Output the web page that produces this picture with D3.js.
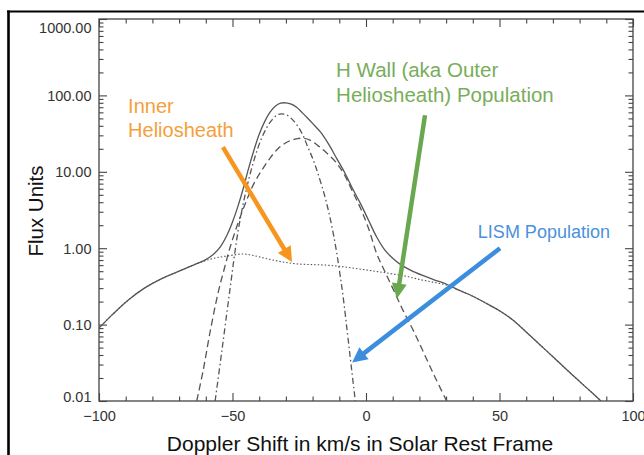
<!DOCTYPE html>
<html>
<head>
<meta charset="utf-8">
<script src="https://cdn.jsdelivr.net/npm/d3@7"></script>
<style>
body { margin: 0; background: #fff; }
svg { display: block; font-family: "Liberation Sans", Arial, sans-serif; }
</style>
</head>
<body>
<div id="chart"></div>
<script>
const xTicks = [-100, -50, 0, 50, 100]
const xMinor = [-90, -80, -70, -60, -40, -30, -20, -10, 10, 20, 30, 40, 60, 70, 80, 90]
const yTicks = [0.01, 0.1, 1, 10, 100, 1000]

// total flux (solid)
const totalFlux = [
  [-100, 0.09], [-95, 0.135], [-89, 0.21], [-83, 0.30], [-76.5, 0.40], [-70, 0.50],
  [-64, 0.615], [-60, 0.71], [-57, 0.84], [-54.5, 1.05], [-52, 1.5], [-50, 2.2],
  [-48, 3.5], [-46, 6.0], [-44, 11], [-42, 19], [-40, 31], [-38, 45], [-36, 60],
  [-34, 72], [-32, 79], [-30, 80], [-28, 77], [-26, 70], [-24, 60], [-22, 51],
  [-20, 43], [-17, 33], [-14, 23], [-11, 15], [-8, 9.8], [-5, 6], [-2, 3.8], [1, 2.3],
  [4, 1.4], [7, 0.95], [10, 0.74], [13, 0.61], [17, 0.51], [22, 0.43], [26, 0.38],
  [30, 0.34], [35, 0.28], [40, 0.235], [45, 0.19], [50, 0.152], [55, 0.115], [60, 0.08],
  [65, 0.055], [70, 0.038], [75, 0.026], [80, 0.018], [85, 0.0125], [88, 0.01]
]
// inner heliosheath (dotted)
const innerHS = [
  [-100, 0.09], [-95, 0.135], [-89, 0.21], [-83, 0.30], [-76.5, 0.40], [-70, 0.50],
  [-64, 0.615], [-60, 0.69], [-56, 0.75], [-51, 0.8], [-46, 0.84], [-42, 0.8],
  [-38, 0.74], [-34, 0.69], [-30, 0.65], [-25, 0.62], [-20, 0.61], [-15, 0.6],
  [-10, 0.58], [-5, 0.55], [0, 0.52], [5, 0.49], [10, 0.46], [15, 0.43], [20, 0.39],
  [25, 0.36], [30, 0.33], [35, 0.28], [40, 0.235], [45, 0.19], [50, 0.152], [55, 0.115],
  [60, 0.08], [65, 0.055], [70, 0.038], [75, 0.026], [80, 0.018], [85, 0.0125], [88, 0.01]
]
// H wall (dashed)
const hWall = [
  [-63.4, 0.01], [-61, 0.025], [-58.4, 0.08], [-55.3, 0.27], [-53, 0.55], [-51, 1.0],
  [-48, 2.1], [-45, 4.0], [-42, 7], [-39, 10.5], [-36, 15], [-33, 20], [-30, 24],
  [-27, 26.5], [-24, 27.5], [-21, 26], [-18, 22], [-15, 18], [-11, 13], [-8, 9],
  [-5, 5.5], [-2, 3.3], [1, 1.8], [4, 0.85], [7, 0.5], [10, 0.3], [14, 0.15],
  [18, 0.08], [22, 0.04], [26, 0.02], [30.2, 0.01]
]
// LISM (dash-dot)
const lism = [
  [-56.5, 0.01], [-54, 0.045], [-51, 0.28], [-48, 1.6], [-45, 5.5], [-42, 14], [-39, 28],
  [-36, 44], [-33, 56], [-30, 56], [-27, 46], [-24, 32], [-22, 22], [-20, 15],
  [-18, 9.5], [-15, 4.2], [-12, 1.4], [-9, 0.3], [-7, 0.08], [-5.5, 0.028], [-4, 0.01]
]

const notes = [
  { lines: ['Inner', 'Heliosheath'], at: [-89.1, 59], size: 20, text: '#f5a03a', color: '#f7961f', from: [-53.6, 21], to: [-27.7, 0.66] },
  { lines: ['H Wall (aka Outer', 'Heliosheath) Population'], at: [-11.2, 174], size: 20.5, text: '#78ad5a', color: '#6aa84f', from: [22.1, 55], to: [11.6, 0.22] },
  { lines: ['LISM Population'], at: [41.9, 1.36], size: 18, text: '#4a91db', color: '#3b8ede', from: [50.2, 1.0], to: [-5.2, 0.032] }
]

const width = 644, height = 455
const margin = { left: 99, top: 19, right: 11, bottom: 54 }
const innerW = width - margin.left - margin.right
const innerH = height - margin.top - margin.bottom

const svg = d3.select('#chart').append('svg')
  .attr('width', width)
  .attr('height', height)

// page frame
svg.append('line').attr('x1', 8.5).attr('x2', 8.5).attr('y1', 10.5).attr('y2', height)
  .attr('stroke', '#000').attr('stroke-width', 2.6)
svg.append('line').attr('x1', 7).attr('x2', width).attr('y1', 11.5).attr('y2', 11.5)
  .attr('stroke', '#000').attr('stroke-width', 1.8)

const g = svg.append('g').attr('transform', `translate(${margin.left},${margin.top})`)

const x = d3.scaleLinear().domain([-100, 100]).range([0, innerW])
const y = d3.scaleLog().domain([0.01, 1000]).range([innerH, 0])

const yMinor = []
yTicks.slice(0, -1).forEach((d) => {
  for (let k = 2; k <= 9; k++) yMinor.push(d * k)
})

const axisColor = '#444'
function styleAxis(sel) {
  sel.select('.domain').remove()
  sel.selectAll('line').attr('stroke', axisColor).attr('stroke-width', 1.1)
  sel.selectAll('text').attr('fill', '#333').attr('font-size', 14.5)
}

// major + minor ticks on all four sides, pointing inward
g.append('g').attr('transform', `translate(0,${innerH})`)
  .call(d3.axisBottom(x).tickValues(xTicks).tickSize(-8).tickPadding(10).tickSizeOuter(0))
  .call(styleAxis)
g.append('g').attr('transform', `translate(0,${innerH})`)
  .call(d3.axisBottom(x).tickValues(xMinor).tickSize(-4.5).tickFormat(''))
  .call(styleAxis)
g.append('g')
  .call(d3.axisTop(x).tickValues(xTicks).tickSize(-8).tickFormat(''))
  .call(styleAxis)
g.append('g')
  .call(d3.axisTop(x).tickValues(xMinor).tickSize(-4.5).tickFormat(''))
  .call(styleAxis)

const yAxis = g.append('g')
  .call(d3.axisLeft(y).tickValues(yTicks).tickSize(-8).tickPadding(7.5).tickFormat(d3.format('.2f')))
  .call(styleAxis)
// keep the end labels inside the box, like the original
yAxis.selectAll('.tick text').attr('dy', (d) => {
  if (d === 1000) return '0.95em'
  if (d === 0.01) return '0.02em'
  return '0.35em'
})
g.append('g')
  .call(d3.axisLeft(y).tickValues(yMinor).tickSize(-4.5).tickFormat(''))
  .call(styleAxis)
g.append('g').attr('transform', `translate(${innerW},0)`)
  .call(d3.axisRight(y).tickValues(yTicks).tickSize(-8).tickFormat(''))
  .call(styleAxis)
g.append('g').attr('transform', `translate(${innerW},0)`)
  .call(d3.axisRight(y).tickValues(yMinor).tickSize(-4.5).tickFormat(''))
  .call(styleAxis)

g.append('rect')
  .attr('width', innerW).attr('height', innerH)
  .attr('fill', 'none').attr('stroke', axisColor).attr('stroke-width', 1.3)

// curves
svg.append('defs').append('clipPath').attr('id', 'plot')
  .append('rect').attr('width', innerW).attr('height', innerH)

const line = d3.line()
  .x((d) => x(d[0]))
  .y((d) => y(d[1]))
  .curve(d3.curveCatmullRom.alpha(0.5))

const curves = g.append('g').attr('clip-path', 'url(#plot)')
const series = [
  { data: innerHS, dash: '1.5,2', w: 1.1 },
  { data: hWall, dash: '7,4', w: 1.3 },
  { data: lism, dash: '6,3,1.5,3', w: 1.3 },
  { data: totalFlux, dash: null, w: 1.3 }
]
curves.selectAll('path').data(series).join('path')
  .attr('d', (s) => line(s.data))
  .attr('fill', 'none')
  .attr('stroke', '#555')
  .attr('stroke-width', (s) => s.w)
  .attr('stroke-dasharray', (s) => s.dash)

// axis titles
svg.append('text')
  .attr('x', 360).attr('y', 451)
  .attr('text-anchor', 'middle')
  .attr('font-size', 21)
  .attr('fill', '#111')
  .text('Doppler Shift in km/s in Solar Rest Frame')
svg.append('text')
  .attr('transform', 'translate(43,211) rotate(-90)')
  .attr('text-anchor', 'middle')
  .attr('font-size', 20.5)
  .attr('fill', '#111')
  .text('Flux Units')

// annotations with arrows
const ann = g.append('g')
notes.forEach((n) => {
  const x0 = x(n.from[0]), y0 = y(n.from[1])
  const x1 = x(n.to[0]), y1 = y(n.to[1])
  const a = Math.atan2(y1 - y0, x1 - x0)
  const hl = 15, hw = 7.5
  const bx = x1 - hl * Math.cos(a), by = y1 - hl * Math.sin(a)
  ann.append('line')
    .attr('x1', x0).attr('y1', y0).attr('x2', bx + Math.cos(a)).attr('y2', by + Math.sin(a))
    .attr('stroke', n.color).attr('stroke-width', 4.5)
  ann.append('path')
    .attr('d', `M${x1},${y1}L${bx - hw * Math.sin(a)},${by + hw * Math.cos(a)}L${bx + hw * Math.sin(a)},${by - hw * Math.cos(a)}Z`)
    .attr('fill', n.color)
  const t = ann.append('text')
    .attr('x', x(n.at[0])).attr('y', y(n.at[1]))
    .attr('font-size', n.size)
    .attr('fill', n.text)
  n.lines.forEach((l, i) => {
    t.append('tspan').attr('x', x(n.at[0])).attr('dy', i ? '1.22em' : 0).text(l)
  })
})
</script>
</body>
</html>
